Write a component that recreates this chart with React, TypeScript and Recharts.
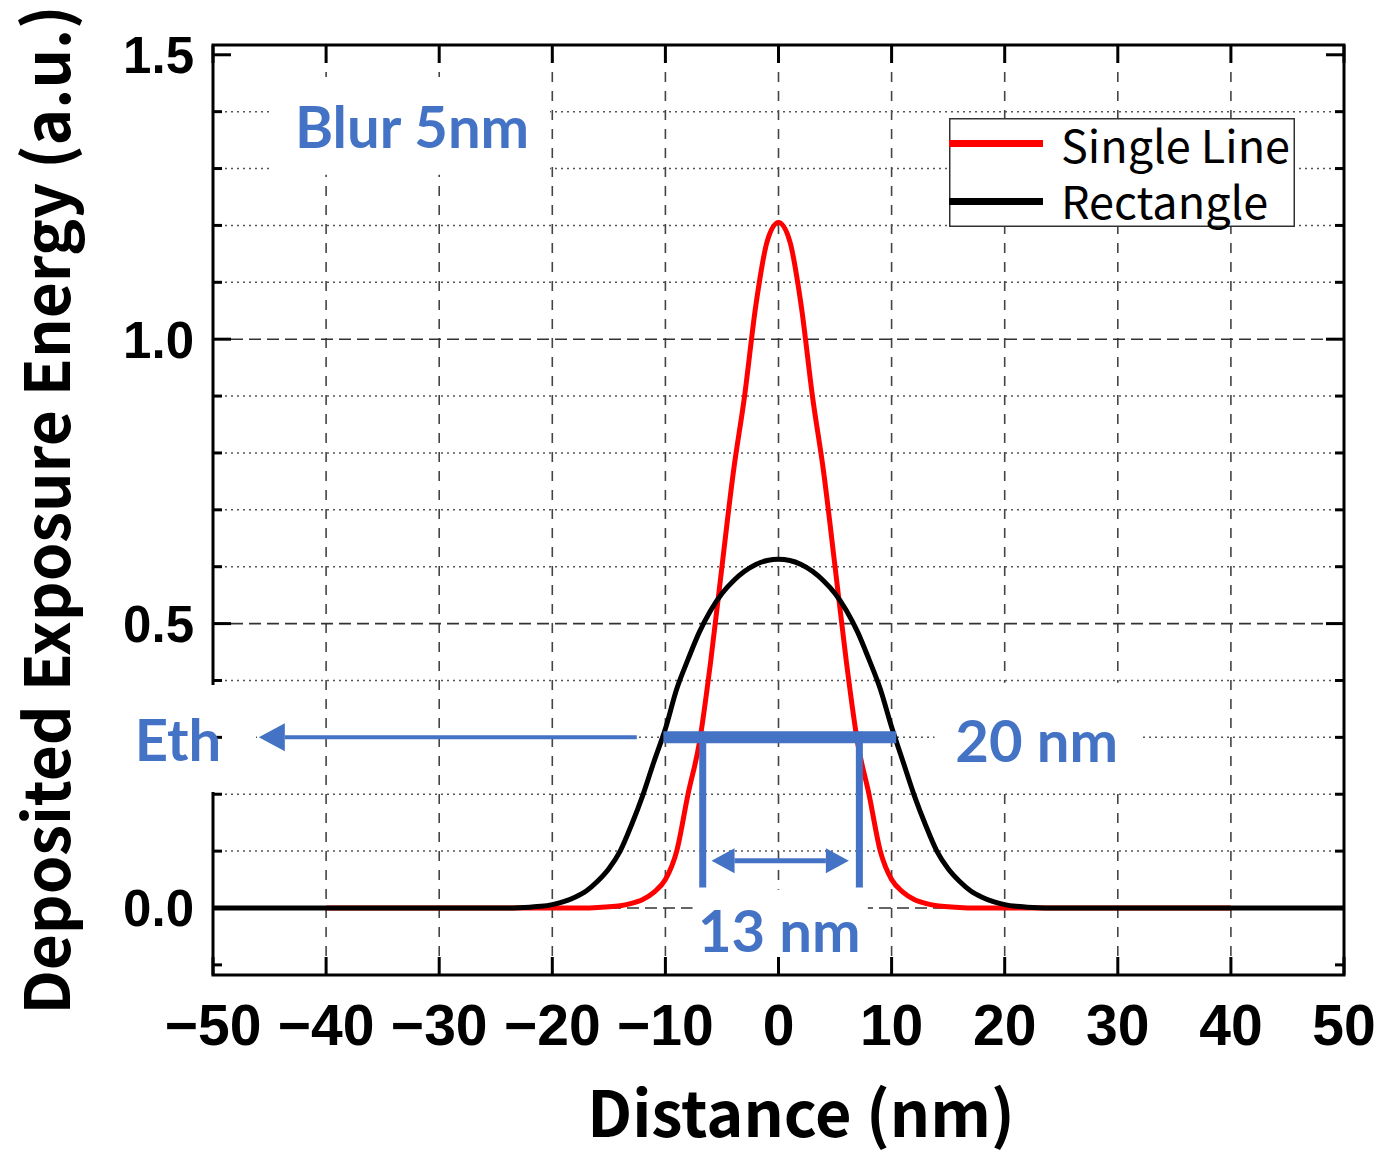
import React from 'react';
import {
  LineChart,
  Line,
  XAxis,
  YAxis,
  ReferenceLine,
  ReferenceArea,
  ReferenceDot,
  Legend,
} from 'recharts';

// ---------------- data ----------------
const X_DOMAIN: [number, number] = [-50, 50];
const Y_DOMAIN: [number, number] = [-0.1178, 1.5172];

const xTicks = [-50, -40, -30, -20, -10, 0, 10, 20, 30, 40, 50];
const yTicks = [-0.1, 0, 0.1, 0.2, 0.3, 0.4, 0.5, 0.6, 0.7, 0.8, 0.9, 1.0, 1.1, 1.2, 1.3, 1.4, 1.5];
const yLabelTicks = [0, 0.5, 1.0, 1.5];

const vGridLines = [-40, -30, -20, -10, 0, 10, 20, 30, 40];
const hGridMajor = [0, 0.5, 1.0];
const hGridMinor = [0.1, 0.2, 0.3, 0.4, 0.6, 0.7, 0.8, 0.9, 1.1, 1.2, 1.3, 1.4];

const singleLineX = [-40, -30, -20, -17, -16, -15, -14, -13, -12, -11, -10, -9, -8, -7, -6, -5, -4, -3, -2, -1, 0,
  1, 2, 3, 4, 5, 6, 7, 8, 9, 10, 11, 12, 13, 14, 15, 16, 17, 20, 30, 40];
const singleLineY = [0, 0, 0, 0, 0.001, 0.002, 0.004, 0.008, 0.015, 0.028, 0.05, 0.1, 0.2, 0.29, 0.433, 0.6, 0.765, 0.9, 1.06, 1.172, 1.205,
  1.172, 1.06, 0.9, 0.765, 0.6, 0.433, 0.29, 0.2, 0.1, 0.05, 0.028, 0.015, 0.008, 0.004, 0.002, 0.001, 0, 0, 0, 0];

const rectangleX = [-50, -40, -30, -25, -24, -23, -22, -21, -20, -19, -18, -17, -16, -15, -14, -13, -12, -11, -10, -9, -8, -7, -6, -5, -4, -3, -2, -1, 0,
  1, 2, 3, 4, 5, 6, 7, 8, 9, 10, 11, 12, 13, 14, 15, 16, 17, 18, 19, 20, 21, 22, 23, 24, 25, 30, 40, 50];
const rectangleY = [0, 0, 0, 0, 0, 0.0005, 0.0015, 0.003, 0.006, 0.011, 0.019, 0.03, 0.047, 0.069, 0.1, 0.146, 0.198, 0.258, 0.315, 0.385, 0.437, 0.485, 0.523, 0.553, 0.575, 0.592, 0.604, 0.611, 0.613,
  0.611, 0.604, 0.592, 0.575, 0.553, 0.523, 0.485, 0.437, 0.385, 0.318, 0.258, 0.198, 0.146, 0.1, 0.069, 0.047, 0.03, 0.019, 0.011, 0.006, 0.003, 0.0015, 0.0005, 0, 0, 0, 0, 0];

const seriesNames = ['Single Line', 'Rectangle'];
const seriesColors = ['#ff0000', '#000000'];

// annotations (data coordinates)
const ethLevel = 0.3;
const width20 = [-10.18, 10.41];
const width13 = [-6.7, 7.15];
const bar13Bottom = 0.036;
const doubleArrow = { y: 0.083, x1: -5.92, x2: 6.22 };
const ethArrow = { from: -12.53, to: -45.95 };

const singleData = singleLineX.map((x, i) => ({ x, y: singleLineY[i] }));
const rectData = rectangleX.map((x, i) => ({ x, y: rectangleY[i] }));

// ---------------- layout ----------------
const W = 1378;
const H = 1152;
const PLOT_LEFT = 213;
const PLOT_TOP = 45;
const PLOT_RIGHT = 1344;
const PLOT_BOTTOM = 975;
const MAJOR = 18;
const MINOR = 9;
const BLUE = '#4472C4';
const TICK_FONT = '"Liberation Sans", Arial, sans-serif';
const TITLE_FONT = '"Noto Sans CJK JP", "Noto Sans", sans-serif';
const BLUE_FONT = 'Lato, "Open Sans", sans-serif';

const isMajorY = (v: number) => yLabelTicks.some((m) => Math.abs(m - v) < 1e-6);

const XTick = (props: any) => {
  const { x, payload } = props;
  const v = payload.value as number;
  const label = v < 0 ? '\u2212' + Math.abs(v) : String(v);
  return (
    <g>
      <line x1={x} x2={x} y1={PLOT_BOTTOM} y2={PLOT_BOTTOM - MAJOR} stroke="#000" strokeWidth={3} />
      <line x1={x} x2={x} y1={PLOT_TOP} y2={PLOT_TOP + MAJOR} stroke="#000" strokeWidth={3} />
      <text x={x} y={1045} textAnchor="middle" fontFamily={TICK_FONT} fontWeight={700} fontSize={57} fill="#000">
        {label}
      </text>
    </g>
  );
};

const YTick = (props: any) => {
  const { y, payload } = props;
  const v = payload.value as number;
  const major = isMajorY(v);
  const len = major ? MAJOR : MINOR;
  return (
    <g>
      <line x1={PLOT_LEFT} x2={PLOT_LEFT + len} y1={y} y2={y} stroke="#000" strokeWidth={3} />
      <line x1={PLOT_RIGHT - len} x2={PLOT_RIGHT} y1={y} y2={y} stroke="#000" strokeWidth={3} />
      {major && (
        <text x={194} y={y} dy="0.36em" textAnchor="end" fontFamily={TICK_FONT} fontWeight={700} fontSize={51} fill="#000">
          {v.toFixed(1)}
        </text>
      )}
    </g>
  );
};

type ArrowOpts = { head: number; half: number; width: number; start: boolean; end: boolean };
const makeArrow = (o: ArrowOpts) => (p: any) => {
  const x1 = Number(p.x1), y1 = Number(p.y1), x2 = Number(p.x2), y2 = Number(p.y2);
  const dx = x2 - x1;
  const dy = y2 - y1;
  const len = Math.hypot(dx, dy) || 1;
  const ux = dx / len, uy = dy / len;
  const nx = -uy, ny = ux;
  const sx = o.start ? x1 + ux * o.head : x1;
  const sy = o.start ? y1 + uy * o.head : y1;
  const ex = o.end ? x2 - ux * o.head : x2;
  const ey = o.end ? y2 - uy * o.head : y2;
  const tri = (tx: number, ty: number, bx: number, by: number) =>
    `${tx},${ty} ${bx + nx * o.half},${by + ny * o.half} ${bx - nx * o.half},${by - ny * o.half}`;
  return (
    <g>
      <line x1={sx} y1={sy} x2={ex} y2={ey} stroke={BLUE} strokeWidth={o.width} />
      {o.start && <polygon points={tri(x1, y1, sx, sy)} fill={BLUE} />}
      {o.end && <polygon points={tri(x2, y2, ex, ey)} fill={BLUE} />}
    </g>
  );
};

const LegendBox = () => (
  <svg width={346} height={109} style={{ display: 'block', overflow: 'visible' }}>
    <rect x={0.75} y={0.75} width={344.5} height={107.5} fill="#fff" stroke="#333" strokeWidth={1.5} />
    {seriesNames.map((name, i) => (
      <g key={name}>
        <line x1={0} x2={94} y1={25.5 + i * 58} y2={25.5 + i * 58} stroke={seriesColors[i]} strokeWidth={7} />
        <text x={112} y={45 + i * 56} fontFamily={TITLE_FONT} fontSize={45} fill="#000">
          {name}
        </text>
      </g>
    ))}
  </svg>
);

const blueLabel = (value: string) => ({
  value,
  position: 'center' as const,
  fill: BLUE,
  fontSize: 58,
  fontWeight: 700,
  fontFamily: BLUE_FONT,
});

export default function App() {
  return (
    <div style={{ position: 'absolute', left: 0, top: 0, width: W, height: H, background: '#fff' }}>
      <LineChart
        width={W}
        height={H}
        margin={{ top: PLOT_TOP, right: W - PLOT_RIGHT, bottom: 0, left: 0 }}
      >
        {vGridLines.map((v) => (
          <ReferenceLine key={'vg' + v} x={v} stroke="#444" strokeWidth={1.6} strokeDasharray="10 9" zIndex={-100} />
        ))}
        {hGridMinor.map((v) => (
          <ReferenceLine key={'hm' + v} y={v} stroke="#555" strokeWidth={1.5} strokeDasharray="2 4" zIndex={-100} />
        ))}
        {hGridMajor.map((v) => (
          <ReferenceLine key={'hM' + v} y={v} stroke="#333" strokeWidth={1.6} strokeDasharray="12 6" zIndex={-100} />
        ))}
        <ReferenceArea
          x1={X_DOMAIN[0]}
          x2={X_DOMAIN[1]}
          y1={Y_DOMAIN[0]}
          y2={Y_DOMAIN[1]}
          fill="none"
          stroke="#000"
          strokeWidth={3}
          ifOverflow="visible"
          zIndex={50}
        />
        <XAxis
          type="number"
          dataKey="x"
          domain={X_DOMAIN}
          ticks={xTicks}
          interval={0}
          allowDataOverflow
          height={H - PLOT_BOTTOM}
          axisLine={false}
          tickLine={false}
          tick={XTick}
          label={{
            content: () => (
              <text x={801} y={1137} textAnchor="middle" fontFamily={TITLE_FONT} fontWeight={700} fontSize={63} fill="#000">
                Distance (nm)
              </text>
            ),
          }}
        />
        <YAxis
          type="number"
          domain={Y_DOMAIN}
          ticks={yTicks}
          interval={0}
          allowDataOverflow
          width={PLOT_LEFT}
          axisLine={false}
          tickLine={false}
          tick={YTick}
          label={{
            content: () => (
              <text
                x={70}
                y={510}
                transform="rotate(-90 70 510)"
                textAnchor="middle"
                fontFamily={TITLE_FONT}
                fontWeight={700}
                fontSize={62}
                fill="#000"
              >
                Deposited Exposure Energy (a.u.)
              </text>
            ),
          }}
        />
        <Line
          data={singleData}
          dataKey="y"
          name={seriesNames[0]}
          type="monotone"
          stroke={seriesColors[0]}
          strokeWidth={5}
          dot={false}
          activeDot={false}
          isAnimationActive={false}
        />
        <Line
          data={rectData}
          dataKey="y"
          name={seriesNames[1]}
          type="monotone"
          stroke={seriesColors[1]}
          strokeWidth={5}
          dot={false}
          activeDot={false}
          isAnimationActive={false}
        />
        {/* white backgrounds behind annotation texts */}
        <ReferenceArea x1={-44.8} x2={-20.2} y1={1.289} y2={1.461} fill="#fff" fillOpacity={1} stroke="none" ifOverflow="visible" zIndex={600} />
        <ReferenceArea x1={-57.4} x2={-46.2} y1={0.204} y2={0.392} fill="#fff" fillOpacity={1} stroke="none" ifOverflow="visible" zIndex={600} />
        <ReferenceArea x1={13.8} x2={32.2} y1={0.202} y2={0.396} fill="#fff" fillOpacity={1} stroke="none" ifOverflow="visible" zIndex={600} />
        <ReferenceArea x1={-7.6} x2={7.9} y1={-0.11} y2={0.032} fill="#fff" fillOpacity={1} stroke="none" ifOverflow="visible" zIndex={600} />
        {/* blue width markers */}
        <ReferenceLine
          segment={[{ x: width20[0], y: ethLevel }, { x: width20[1], y: ethLevel }]}
          stroke={BLUE}
          strokeWidth={12}
          zIndex={700}
        />
        <ReferenceLine
          segment={[{ x: width13[0], y: ethLevel + 0.01 }, { x: width13[0], y: bar13Bottom }]}
          stroke={BLUE}
          strokeWidth={7}
          zIndex={700}
        />
        <ReferenceLine
          segment={[{ x: width13[1], y: ethLevel + 0.01 }, { x: width13[1], y: bar13Bottom }]}
          stroke={BLUE}
          strokeWidth={7}
          zIndex={700}
        />
        <ReferenceLine
          segment={[{ x: doubleArrow.x1, y: doubleArrow.y }, { x: doubleArrow.x2, y: doubleArrow.y }]}
          shape={makeArrow({ head: 23, half: 12.5, width: 5, start: true, end: true })}
          zIndex={700}
        />
        <ReferenceLine
          segment={[{ x: ethArrow.from, y: ethLevel }, { x: ethArrow.to, y: ethLevel }]}
          shape={makeArrow({ head: 26, half: 14, width: 4, start: false, end: true })}
          zIndex={700}
        />
        {/* annotation texts */}
        <ReferenceDot x={-32.4} y={1.372} r={0} fill="none" stroke="none" ifOverflow="visible" label={blueLabel('Blur 5nm')} zIndex={800} />
        <ReferenceDot x={-53.1} y={0.295} r={0} fill="none" stroke="none" ifOverflow="visible" label={blueLabel('Eth')} zIndex={800} />
        <ReferenceDot x={22.83} y={0.292} r={0} fill="none" stroke="none" ifOverflow="visible" label={blueLabel('20 nm')} zIndex={800} />
        <ReferenceDot x={0.07} y={-0.041} r={0} fill="none" stroke="none" ifOverflow="visible" label={blueLabel('13 nm')} zIndex={800} />
        <Legend
          layout="horizontal"
          verticalAlign="middle"
          align="center"
          content={() => <LegendBox />}
          wrapperStyle={{ left: 949, top: 118, width: 346, height: 109 }}
        />
      </LineChart>
    </div>
  );
}
